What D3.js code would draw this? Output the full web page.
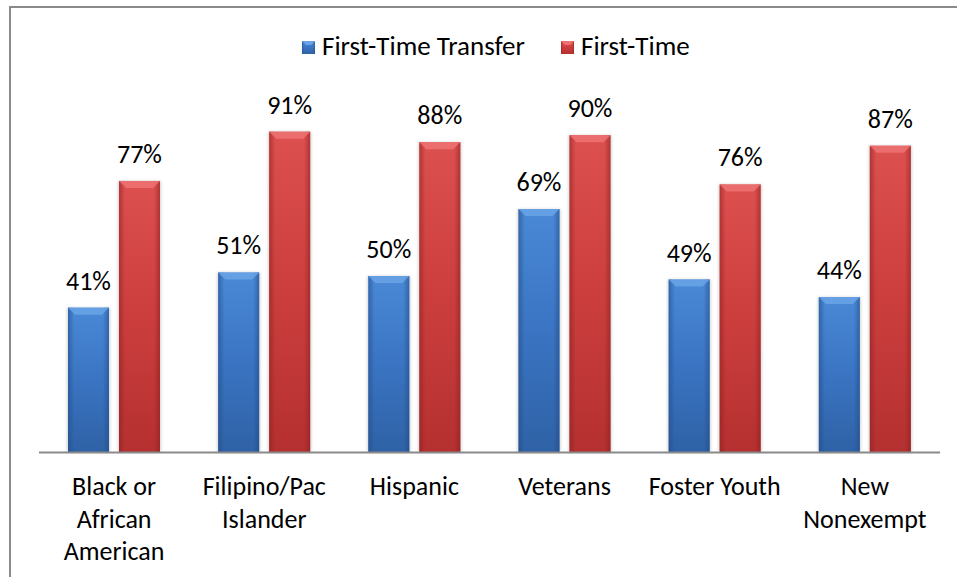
<!DOCTYPE html>
<html><head><meta charset="utf-8">
<script src="https://cdn.jsdelivr.net/npm/d3@7"></script>
<style>
html,body{margin:0;padding:0;background:#fff;}
svg{display:block;}
text{font-family:Carlito, Calibri, Lato, "Open Sans", sans-serif;fill:#000;}
</style></head>
<body>
<script>
const categories = [["Black or","African","American"],["Filipino/Pac","Islander"],["Hispanic"],["Veterans"],["Foster Youth"],["New","Nonexempt"]];
const seriesNames = ["First-Time Transfer","First-Time"];
const firstTimeTransfer = [41,51,50,69,49,44];
const firstTime = [77,91,88,90,76,87];
const seriesValues = [firstTimeTransfer, firstTime];

const W = 957, H = 577;
const svg = d3.select("body").append("svg").attr("width", W).attr("height", H);
const defs = svg.append("defs");

const palettes = [
  {id:"blue", top:"#4a89d6", mid:"#3a74c2", bot:"#2f62a6", edge:"#1f4a85", bevel:"#6aa3e6"},
  {id:"red", top:"#dd5050", mid:"#cc3e3e", bot:"#b53030", edge:"#8a1f1f", bevel:"#ee7272"}
];
palettes.forEach(p => {
  const g = defs.append("linearGradient").attr("id","v-"+p.id).attr("x1",0).attr("y1",0).attr("x2",0).attr("y2",1);
  g.append("stop").attr("offset","0%").attr("stop-color",p.top);
  g.append("stop").attr("offset","50%").attr("stop-color",p.mid);
  g.append("stop").attr("offset","100%").attr("stop-color",p.bot);
  const h = defs.append("linearGradient").attr("id","h-"+p.id).attr("x1",0).attr("y1",0).attr("x2",1).attr("y2",0);
  h.append("stop").attr("offset","0%").attr("stop-color",p.edge).attr("stop-opacity",0.55);
  h.append("stop").attr("offset","15%").attr("stop-color",p.edge).attr("stop-opacity",0.0);
  h.append("stop").attr("offset","85%").attr("stop-color",p.edge).attr("stop-opacity",0.0);
  h.append("stop").attr("offset","100%").attr("stop-color",p.edge).attr("stop-opacity",0.55);
});
const blur = defs.append("filter").attr("id","sh").attr("x","-20%").attr("y","-5%").attr("width","140%").attr("height","110%");
blur.append("feGaussianBlur").attr("stdDeviation",1.6);

// frame
svg.append("rect").attr("x",10).attr("y",7).attr("width",1000).attr("height",700)
  .attr("fill","none").attr("stroke","#8a8a8a").attr("stroke-width",2);

const x0 = d3.scaleBand().domain(d3.range(categories.length)).range([39,940]).padding(0);
const x1 = d3.scaleBand().domain(d3.range(seriesNames.length)).range([29,121]).paddingInner(0.196);
const y = d3.scaleLinear().domain([0,100]).range([452,100]);

const groups = svg.selectAll("g.grp").data(categories).join("g").attr("class","grp")
  .attr("transform",(d,i)=>`translate(${x0(i)},0)`);

groups.each(function(cat, ci){
  const g = d3.select(this);
  seriesValues.forEach((vals, si) => {
    const p = palettes[si];
    const v = vals[ci];
    const bx = x1(si), bw = x1.bandwidth(), by = y(v), bh = y(0) - y(v);
    g.append("rect").attr("x",bx-1).attr("y",by).attr("width",bw+2).attr("height",bh)
      .attr("fill","#000").attr("opacity",0.18).attr("filter","url(#sh)");
    g.append("rect").attr("x",bx).attr("y",by).attr("width",bw).attr("height",bh).attr("fill",`url(#v-${p.id})`);
    g.append("rect").attr("x",bx).attr("y",by).attr("width",bw).attr("height",bh).attr("fill",`url(#h-${p.id})`);
    const bv = 7;
    g.append("polygon").attr("points",[[bx,by],[bx+bw,by],[bx+bw-bv,by+bv],[bx+bv,by+bv]].map(d=>d.join(",")).join(" "))
      .attr("fill",p.bevel).attr("opacity",0.85);
    g.append("text").attr("x",bx+bw/2).attr("y",by-18).attr("text-anchor","middle")
      .style("font-size","26px").text(v+"%");
  });
  const t = g.append("text").attr("text-anchor","middle").style("font-size","26px");
  cat.forEach((line, li) => {
    t.append("tspan").attr("x",x0.bandwidth()/2).attr("y",495+li*32.5).text(line);
  });
});

// axis line
svg.append("line").attr("x1",39).attr("x2",940).attr("y1",452.5).attr("y2",452.5)
  .attr("stroke","#8a8a8a").attr("stroke-width",2);

// legend
const legX = [302, 561];
seriesNames.forEach((name, si) => {
  const p = palettes[si];
  const lg = svg.append("g").attr("transform",`translate(${legX[si]},41)`);
  lg.append("rect").attr("width",13).attr("height",13).attr("fill",`url(#v-${p.id})`);
  lg.append("rect").attr("width",13).attr("height",13).attr("fill",`url(#h-${p.id})`);
  lg.append("polygon").attr("points","0,0 13,0 9,4 4,4").attr("fill",p.bevel);
  lg.append("text").attr("x",20).attr("y",55-41).style("font-size","27px").text(name);
});
</script>
</body></html>
